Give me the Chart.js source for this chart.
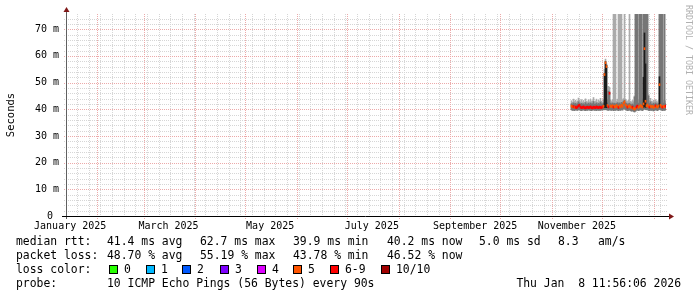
<!DOCTYPE html>
<html>
<head>
<meta charset="utf-8">
<script src="https://cdn.jsdelivr.net/npm/chart.js@4/dist/chart.umd.min.js"></script>
<style>
  body { margin: 0; background: #fff; }
  #wrap { position: relative; width: 697px; height: 297px; font-family: 'DejaVu Sans Mono', monospace; color: #000; }
  #wrap span { position: absolute; font-size: 11.4px; line-height: 14px; white-space: pre; }
  #wrap i.sw { position: absolute; width: 9px; height: 9px; box-sizing: border-box; border: 1px solid #000; }
  #wm { position: absolute; left: 684px; top: 5px; writing-mode: vertical-rl; font-size: 8.3px; color: #b0b0b0; white-space: pre; }
</style>
</head>
<body>
<div id="wrap">
  <canvas id="graph" width="697" height="297"></canvas>
  <div id="wm">RRDTOOL / TOBI OETIKER</div>

  <span style="left:16px;top:234px">median rtt:</span>
  <span style="left:107px;top:234px">41.4 ms avg</span>
  <span style="left:200px;top:234px">62.7 ms max</span>
  <span style="left:293px;top:234px">39.9 ms min</span>
  <span style="left:387px;top:234px">40.2 ms now</span>
  <span style="left:479px;top:234px">5.0 ms sd</span>
  <span style="left:558px;top:234px">8.3</span>
  <span style="left:598px;top:234px">am/s</span>

  <span style="left:16px;top:248px">packet loss:</span>
  <span style="left:107px;top:248px">48.70 % avg</span>
  <span style="left:200px;top:248px">55.19 % max</span>
  <span style="left:293px;top:248px">43.78 % min</span>
  <span style="left:387px;top:248px">46.52 % now</span>

  <span style="left:16px;top:262px">loss color:</span>
  <div id="lossLegend"></div>

  <span style="left:16px;top:276px">probe:</span>
  <span style="left:107px;top:276px">10 ICMP Echo Pings (56 Bytes) every 90s</span>
  <span style="right:16px;top:276px">Thu Jan  8 11:56:06 2026</span>
</div>

<script>
// Smokeping-style year graph (days counted from 1 Jan 2025)

// axis labels / grid
var xLabels = ['January 2025', 'March 2025', 'May 2025', 'July 2025', 'September 2025', 'November 2025'];
var xLabelDays = [15, 74, 135, 196, 258, 319];
var monthStarts = [31, 59, 90, 120, 151, 181, 212, 243, 273, 304, 334, 365];
var firstMonday = 19;
var yTicks = [0, 10, 20, 30, 40, 50, 60, 70];

// loss legend
var lossNames = ['0', '1', '2', '3', '4', '5', '6-9', '10/10'];
var lossColors = ['#26ff00', '#00b8ff', '#0059ff', '#7e00ff', '#dd00ff', '#ff5500', '#ff0000', '#a10000'];

// samples: one per consolidated step
var sampleStart = 315.8;
var sampleStep = 0.6;

var median = [
  41.2, 40.9, 41.0, 40.7, 40.8, 40.6, 40.9, 41.3, 41.5, 40.8,
  40.6, 40.7, 40.9, 40.6, 40.5, 40.7, 40.8, 40.6, 40.7, 40.9,
  40.6, 40.5, 40.8, 40.7, 40.6, 40.9, 40.7, 40.6, 40.8, 40.7,
  40.6, 40.9, 41.1, 53.0, 57.4, 56.0, 41.4, 40.9, 46.0, 41.2,
  41.0, 41.3, 40.8, 41.1, 40.9, 41.4, 41.0, 40.7, 41.2, 40.9,
  41.5, 41.1, 42.2, 42.8, 41.6, 41.2, 40.8, 41.0, 41.3, 40.9,
  40.6, 40.8, 40.3, 40.1, 40.4, 40.9, 41.2, 40.7, 41.0, 41.4,
  41.1, 40.8, 42.0, 62.7, 43.0, 41.3, 41.6, 41.0, 40.8, 41.2,
  40.9, 41.1, 40.7, 40.9, 41.3, 41.0, 40.8, 41.2, 49.2, 41.5,
  41.0, 40.8, 41.1, 40.9, 41.2
];

var lostPings = [
  5, 5, 6, 5, 6, 6, 6, 6, 7, 6,
  6, 6, 6, 6, 7, 6, 6, 6, 6, 6,
  6, 7, 6, 6, 6, 6, 6, 6, 6, 6,
  6, 6, 5, 5, 5, 5, 5, 6, 6, 5,
  5, 5, 6, 5, 5, 5, 5, 6, 5, 5,
  5, 5, 5, 5, 5, 5, 6, 5, 5, 5,
  5, 6, 5, 5, 5, 6, 6, 5, 5, 5,
  5, 5, 5, 5, 5, 5, 5, 5, 6, 5,
  5, 5, 5, 5, 6, 5, 5, 5, 5, 5,
  5, 6, 5, 5, 6
];

var smokeMin = [
  39.8, 39.6, 39.7, 39.5, 39.8, 39.7, 39.6, 39.8, 39.9, 39.6,
  39.5, 39.7, 39.8, 39.6, 39.5, 39.7, 39.6, 39.8, 39.7, 39.6,
  39.5, 39.7, 39.8, 39.6, 39.7, 39.5, 39.8, 39.6, 39.7, 39.6,
  39.8, 39.7, 39.9, 39.8, 39.9, 39.8, 39.7, 39.6, 39.8, 39.7,
  39.6, 39.8, 39.5, 39.7, 39.6, 39.8, 39.7, 39.5, 39.8, 39.6,
  39.9, 39.7, 40.1, 40.3, 39.9, 39.7, 39.5, 39.6, 39.8, 39.5,
  39.3, 39.5, 39.2, 39.0, 39.3, 39.6, 39.8, 39.5, 39.7, 39.8,
  39.7, 39.5, 39.9, 40.2, 39.9, 39.8, 39.9, 39.6, 39.5, 39.7,
  39.6, 39.7, 39.4, 39.6, 39.8, 39.7, 39.5, 39.8, 40.0, 39.9,
  39.7, 39.5, 39.7, 39.6, 39.8
];

// upper edge of the dense part of the smoke
var smokeMid = [
  42.1, 41.9, 42.4, 42.0, 42.2, 41.8, 42.1, 42.8, 42.3, 41.9,
  42.2, 41.9, 42.1, 41.8, 42.5, 42.0, 41.9, 42.3, 41.9, 42.4,
  42.0, 42.1, 42.9, 41.9, 42.0, 42.4, 41.8, 42.2, 42.0, 42.7,
  42.1, 41.9, 42.3, 42.5, 43.0, 42.6, 42.2, 46.8, 46.5, 42.3,
  42.0, 42.4, 42.1, 42.3, 42.0, 42.2, 42.5, 42.1, 42.4, 42.0,
  42.6, 42.3, 43.0, 43.4, 42.5, 42.2, 41.9, 42.1, 42.3, 41.9,
  41.7, 42.0, 41.6, 44.6, 120, 120, 120, 42.3, 120, 120,
  120, 42.5, 120, 120, 120, 120, 120, 45.0, 42.2, 42.8,
  42.0, 41.9, 42.3, 41.9, 42.4, 42.1, 41.8, 42.2, 120, 120,
  120, 120, 42.3, 120, 42.1
];

var smokeMax = [
  43.2, 42.6, 43.8, 42.9, 43.4, 42.7, 43.1, 44.2, 43.5, 42.8,
  43.6, 42.7, 43.3, 42.6, 43.9, 43.0, 42.7, 43.5, 42.8, 43.7,
  42.9, 43.2, 44.4, 42.8, 43.1, 43.8, 42.6, 43.4, 42.9, 44.1,
  43.0, 42.7, 43.6, 55.0, 58.8, 57.0, 43.6, 48.6, 48.2, 43.4,
  42.9, 43.6, 120, 120, 120, 43.1, 43.8, 120, 120, 120,
  120, 43.5, 44.0, 120, 43.7, 43.2, 42.9, 43.4, 120, 43.0,
  42.7, 43.3, 42.8, 45.0, 120, 120, 120, 43.5, 120, 120,
  120, 43.9, 120, 120, 120, 120, 120, 45.4, 43.2, 44.1,
  43.0, 42.8, 43.4, 42.9, 43.6, 43.1, 42.7, 43.3, 120, 120,
  120, 120, 43.5, 120, 43.2
];

// dark cores of the latency spikes
var coreIndex = [33, 34, 35, 72, 73, 74, 88];
var coreTop = [53.5, 57.8, 56.5, 52.0, 68.6, 57.0, 52.2];

function lossColor(n) {
  if (n >= 10) return lossColors[7];
  if (n >= 6) return lossColors[6];
  return lossColors[n];
}

function dayOf(i) { return sampleStart + i * sampleStep; }

var medianBars = median.map(function (m, i) { return { x: dayOf(i), y: [m - 0.38, m + 0.38] }; });
var coreBars = coreIndex.map(function (idx, k) { return { x: dayOf(idx), y: [smokeMin[idx] + 0.8, coreTop[k]] }; });
var innerBars = smokeMid.map(function (v, i) { return { x: dayOf(i), y: [smokeMin[i], v] }; });
var outerBars = smokeMax.map(function (v, i) { return { x: dayOf(i), y: [smokeMin[i], v] }; });

// legend boxes
var legendBox = document.getElementById('lossLegend');
var swatchX = [109, 146, 182, 220, 257, 293, 330, 381];
lossNames.forEach(function (name, i) {
  var sw = document.createElement('i');
  sw.className = 'sw';
  sw.style.left = swatchX[i] + 'px';
  sw.style.top = '265px';
  sw.style.background = lossColors[i];
  legendBox.appendChild(sw);
  var t = document.createElement('span');
  t.textContent = name;
  t.style.left = (swatchX[i] + 15) + 'px';
  t.style.top = '262px';
  legendBox.appendChild(t);
});

function hline(ctx, x0, x1, y) { ctx.beginPath(); ctx.moveTo(x0, y); ctx.lineTo(x1, y); ctx.stroke(); }
function vline(ctx, x, y0, y1) { ctx.beginPath(); ctx.moveTo(x, y0); ctx.lineTo(x, y1); ctx.stroke(); }

var rrdGrid = {
  id: 'rrdGrid',
  beforeDatasetsDraw: function (chart) {
    var ctx = chart.ctx, a = chart.chartArea, x = chart.scales.x, y = chart.scales.y;
    ctx.save();
    ctx.lineWidth = 1;
    ctx.setLineDash([1, 1]);
    ctx.strokeStyle = '#d6d6d6';
    for (var d = firstMonday; d < 372.5; d += 7) {
      var px = Math.round(x.getPixelForValue(d)) + 0.5;
      vline(ctx, px, a.top, a.bottom + 2);
    }
    for (var v = 2; v < 76; v += 2) {
      if (v % 10 === 0) continue;
      var py = Math.round(y.getPixelForValue(v)) + 0.5;
      hline(ctx, a.left - 2, a.right + 2, py);
    }
    ctx.strokeStyle = '#ecaaaa';
    monthStarts.forEach(function (m) {
      var px = Math.round(x.getPixelForValue(m)) + 0.5;
      vline(ctx, px, a.top, a.bottom + 3);
    });
    yTicks.forEach(function (t) {
      if (t === 0) return;
      var py = Math.round(y.getPixelForValue(t)) + 0.5;
      hline(ctx, a.left - 2, a.right + 2, py);
    });
    ctx.restore();
  },
  afterDatasetsDraw: function (chart) {
    var ctx = chart.ctx, a = chart.chartArea;
    var ax = Math.round(a.left) + 0.5, ay = Math.round(a.bottom) + 0.5;
    ctx.save();
    ctx.lineWidth = 1;
    ctx.strokeStyle = '#606060';
    vline(ctx, ax, a.bottom + 3, a.top - 3);
    ctx.strokeStyle = '#000';
    hline(ctx, a.left - 4, a.right + 3, ay);
    ctx.fillStyle = '#7f1717';
    ctx.beginPath();
    ctx.moveTo(ax, a.top - 7); ctx.lineTo(ax - 3, a.top - 2); ctx.lineTo(ax + 3, a.top - 2);
    ctx.fill();
    ctx.beginPath();
    ctx.moveTo(a.right + 8, ay); ctx.lineTo(a.right + 3, ay - 3); ctx.lineTo(a.right + 3, ay + 3);
    ctx.fill();
    ctx.restore();
  }
};

var monoFont = { family: "'DejaVu Sans Mono', monospace", size: 10 };

new Chart(document.getElementById('graph'), {
  type: 'bar',
  data: {
    datasets: [
      { data: medianBars, backgroundColor: lostPings.map(lossColor) },
      { data: coreBars, backgroundColor: '#1c1c1c' },
      { data: innerBars, backgroundColor: '#777777' },
      { data: outerBars, backgroundColor: '#ababab' }
    ]
  },
  options: {
    responsive: false,
    animation: false,
    events: [],
    layout: { padding: { left: 0, top: 14, right: 31, bottom: 65 } },
    datasets: { bar: { grouped: false, barThickness: 1, borderWidth: 0 } },
    plugins: { legend: { display: false }, tooltip: { enabled: false } },
    scales: {
      x: {
        type: 'linear',
        min: 12.5,
        max: 372.5,
        offset: false,
        grid: { display: false, drawTicks: false },
        border: { display: false },
        afterBuildTicks: function (s) { s.ticks = xLabelDays.map(function (v) { return { value: v }; }); },
        afterFit: function (s) { s.height = 16; },
        ticks: {
          autoSkip: false, maxRotation: 0, padding: 4, color: '#000', font: monoFont,
          callback: function (v, i) { return xLabels[i]; }
        }
      },
      y: {
        min: 0,
        max: 75.7,
        grid: { display: false, drawTicks: false },
        border: { display: false },
        afterBuildTicks: function (s) { s.ticks = yTicks.map(function (v) { return { value: v }; }); },
        afterFit: function (s) { s.width = 66; },
        ticks: {
          padding: 7, color: '#000', font: monoFont,
          callback: function (v) { return v === 0 ? '0 ' : v + ' m'; }
        },
        title: {
          display: true, text: 'Seconds', color: '#000',
          font: { family: "'DejaVu Sans Mono', monospace", size: 10.5 },
          padding: { top: 5, bottom: 0 }
        }
      }
    }
  },
  plugins: [rrdGrid]
});
</script>
</body>
</html>
